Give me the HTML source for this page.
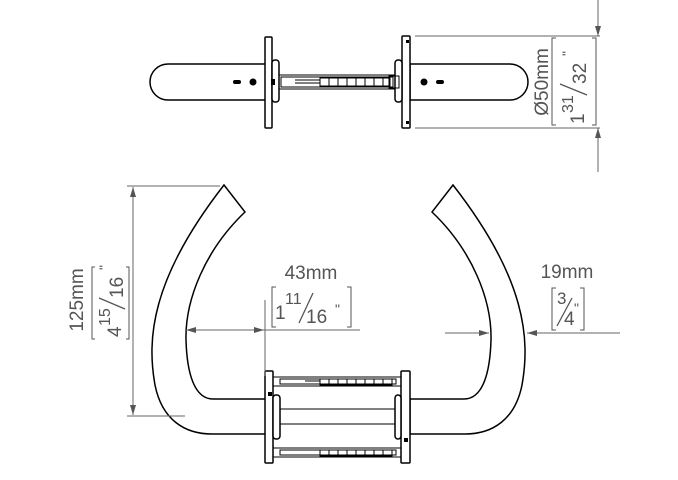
<!DOCTYPE html>
<html><head><style>
body{margin:0;background:#fff;}
svg{display:block;}
text{font-family:"Liberation Sans",sans-serif;fill:#555;}
</style></head><body>
<svg width="678" height="480" viewBox="0 0 678 480" xmlns="http://www.w3.org/2000/svg">
<defs>
<marker id="a" viewBox="0 0 10 6" refX="10" refY="3" markerWidth="12" markerHeight="6" orient="auto" markerUnits="userSpaceOnUse"><path d="M0,0L10,3L0,6z" fill="#555"/></marker>
</defs>
<g fill="none" stroke="#000" stroke-width="1.5">
<path d="M168,64 H268 V100 H168 A18,18 0 0 1 168,64 Z"/>
<path d="M510,64 H410 V100 H510 A18,18 0 0 0 510,64 Z"/>
<rect x="265" y="37" width="7" height="91" rx="1" fill="#fff"/>
<rect x="402" y="36" width="8" height="92" rx="1" fill="#fff"/>
<rect x="272" y="60" width="7" height="42" rx="3" fill="#fff"/>
<rect x="395" y="60" width="7" height="42" rx="3" fill="#fff"/>
<rect x="279" y="75" width="116" height="14" stroke-width="1"/>
<rect x="281" y="77" width="112" height="10" stroke-width="1"/>
<path d="M295,80H320M295,83H320" stroke-width="1"/>
<g stroke-width="1"><rect x="320" y="78" width="70" height="8"/><path d="M329,78v8M338,78v8M347,78v8M356,78v8M365,78v8M374,78v8M383,78v8"/></g>
<rect x="389" y="76" width="10" height="12" stroke-width="1"/>
</g>
<g fill="#000">
<circle cx="253" cy="82" r="3.5"/><rect x="233" y="80" width="8" height="4" rx="2"/>
<circle cx="424" cy="82" r="3.5"/><rect x="436" y="80" width="8" height="4" rx="2"/>
<rect x="271" y="79" width="4" height="6"/>
<rect x="406" y="40" width="3" height="3"/><rect x="406" y="121" width="3" height="3"/>
</g>
<g stroke="#666" stroke-width="1" fill="none">
<path d="M415,36H600M415,128H600"/>
<path d="M598,0V36" marker-end="url(#a)"/>
<path d="M598,172V128" marker-end="url(#a)"/>
</g>
<g transform="translate(548,82) rotate(-90)"><text x="0" y="0" font-size="19" text-anchor="middle">Ø50mm</text></g>
<g stroke="#555" fill="none" stroke-width="1"><path d="M556,38h-4v87h4M592,38h4v87h-4"/></g>
<g transform="translate(584,82) rotate(-90)"><text x="-42" y="0" font-size="19">1</text><text x="-31" y="-11" font-size="16">31</text><path d="M-13,3L-2,-24" stroke="#555" stroke-width="1.3"/><text x="-2" y="2" font-size="19">32</text><text x="26" y="-12" font-size="14">"</text></g>

<g fill="#fff" stroke="#000" stroke-width="1.5">
<path d="M224,185 L245,212 C205,250 185,300 186,340 C187,375 195,399 213,399 H267 V434 H212 C185,434 162,420 155,385 C147,340 150,280 224,185 Z"/>
<path d="M453,185 L432,212 C472,250 492,300 491,340 C490,375 482,399 464,399 H410 V434 H465 C492,434 515,420 522,385 C530,340 527,280 453,185 Z"/>
<rect x="265" y="371" width="8" height="92" rx="1"/>
<rect x="401" y="371" width="9" height="92" rx="1"/>
<rect x="273" y="395" width="7" height="44" rx="3"/>
<rect x="395" y="395" width="6" height="44" rx="3"/>
</g>
<g fill="none" stroke="#000" stroke-width="1">
<path d="M280,409H395M280,424H395"/>
<rect x="273" y="377" width="128" height="9"/><rect x="280" y="379" width="116" height="5"/>
<path d="M305,381H320"/><rect x="320" y="379" width="72" height="6"/><path d="M329,379v6M338,379v6M347,379v6M356,379v6M365,379v6M374,379v6M383,379v6"/>
<rect x="273" y="448" width="128" height="9"/><rect x="280" y="450" width="116" height="5"/>
<rect x="320" y="450" width="72" height="6"/><path d="M329,450v6M338,450v6M347,450v6M356,450v6M365,450v6M374,450v6M383,450v6"/>
</g>
<g fill="#000"><rect x="268" y="392" width="4" height="4"/><rect x="404" y="438" width="4" height="4"/></g>

<g stroke="#666" stroke-width="1" fill="none">
<path d="M127,186H220M127,416H185"/>
<path d="M133,300V187" marker-end="url(#a)"/>
<path d="M133,300V415" marker-end="url(#a)"/>
<path d="M265,300V376"/>
<path d="M225,330H186" marker-end="url(#a)"/>
<path d="M225,330H265H360"/>
<path d="M238,330H264" marker-end="url(#a)"/>
<path d="M445,333H489" marker-end="url(#a)"/>
<path d="M620,333H527" marker-end="url(#a)"/>
</g>
<g transform="translate(83,300) rotate(-90)"><text x="0" y="0" font-size="19" text-anchor="middle">125mm</text></g>
<path d="M95,267h-3v72h3M126,267h3v72h-3" stroke="#555" fill="none" stroke-width="1"/>
<g transform="translate(100,301) rotate(-90)"><text x="-36" y="21" font-size="19">4</text><text x="-25" y="10" font-size="16">15</text><path d="M-8,25L3,-1" stroke="#555" stroke-width="1.3"/><text x="3" y="23" font-size="19">16</text><text x="31" y="9" font-size="14">"</text></g>

<text x="311" y="279" font-size="19" text-anchor="middle">43mm</text>
<path d="M276,287h-4v40h4M347,287h4v40h-4" stroke="#555" fill="none" stroke-width="1"/>
<text x="275" y="319" font-size="19">1</text><text x="285" y="304" font-size="16">11</text><path d="M299,323L313,293" stroke="#555" stroke-width="1.3"/><text x="306" y="323" font-size="19">16</text><text x="335" y="314" font-size="14">"</text>

<text x="567" y="278" font-size="19" text-anchor="middle">19mm</text>
<path d="M556,288h-4v42h4M580,288h4v42h-4" stroke="#555" fill="none" stroke-width="1"/>
<text x="557" y="304" font-size="17">3</text><path d="M557,326L572,298" stroke="#555" stroke-width="1.3"/><text x="564" y="325" font-size="19">4</text><text x="574" y="313" font-size="14">"</text>
</svg>
</body></html>
